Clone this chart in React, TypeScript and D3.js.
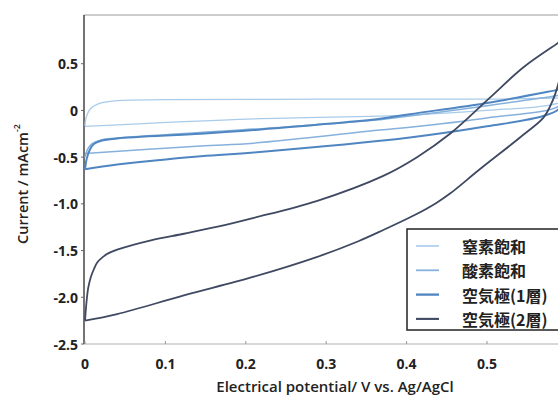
import React from "react";
import * as d3 from "d3";

// Cyclic voltammetry loops: [potential V, current mA/cm2], anodic sweep then cathodic sweep
const n2Loop: [number, number][] = [
  [0, -0.17], [0.001, -0.09], [0.007, 0.02], [0.02, 0.08], [0.04, 0.105],
  [0.1, 0.115], [0.3, 0.12], [0.5, 0.12], [0.6, 0.12],
  [0.58, 0.06], [0.5, 0.0], [0.404, -0.05], [0.21, -0.09], [0, -0.17],
];
const o2Loop: [number, number][] = [
  [0, -0.5], [0.003, -0.42], [0.008, -0.36], [0.02, -0.315], [0.04, -0.295], [0.21, -0.2],
  [0.367, -0.1], [0.404, -0.06], [0.5, 0.05], [0.588, 0.16], [0.6, 0.18],
  [0.59, 0.05], [0.5, -0.08], [0.404, -0.18], [0.367, -0.21], [0.21, -0.35], [0.144, -0.38], [0, -0.46],
];
const air1Loop: [number, number][] = [
  [0, -0.63], [0.002, -0.52], [0.006, -0.42], [0.011, -0.36], [0.02, -0.325], [0.04, -0.3], [0.144, -0.25],
  [0.21, -0.21], [0.367, -0.09], [0.404, -0.04], [0.5, 0.08], [0.588, 0.22], [0.6, 0.24],
  [0.59, 0.02], [0.57, -0.06], [0.5, -0.17], [0.404, -0.29], [0.21, -0.45], [0.144, -0.49],
  [0.04, -0.58], [0, -0.63],
];
const air2Loop: [number, number][] = [
  [0, -2.25], [0.002, -2.04], [0.004, -1.9], [0.007, -1.79], [0.011, -1.7], [0.015, -1.63],
  [0.022, -1.57], [0.03, -1.525], [0.04, -1.49], [0.082, -1.39], [0.123, -1.32], [0.165, -1.245],
  [0.21, -1.15], [0.288, -0.97], [0.371, -0.7], [0.413, -0.5], [0.454, -0.25], [0.504, 0.14],
  [0.545, 0.46], [0.588, 0.72], [0.6, 0.79],
  [0.592, 0.4], [0.585, 0.18], [0.578, 0.035], [0.57, -0.08], [0.541, -0.29], [0.491, -0.63],
  [0.454, -0.89], [0.437, -0.99], [0.41, -1.12], [0.371, -1.28], [0.34, -1.4], [0.288, -1.57],
  [0.21, -1.78], [0.123, -1.98], [0.04, -2.18], [0, -2.25],
];

const seriesNames = ["窒素飽和", "酸素飽和", "空気極(1層)", "空気極(2層)"];
const xTicks = [0, 0.1, 0.2, 0.3, 0.4, 0.5];
const yTicks = [0.5, 0, -0.5, -1.0, -1.5, -2.0, -2.5];
const yTickLabels = ["0.5", "0", "-0.5", "-1.0", "-1.5", "-2.0", "-2.5"];

const W = 558;
const H = 396;

export default function App() {
  const x = d3.scaleLinear().domain([0, 0.6]).range([85, 567.4]);
  const y = d3.scaleLinear().domain([-2.5, 1.0]).range([344, 17]);
  const line = d3
    .line<[number, number]>()
    .x((d) => x(d[0]))
    .y((d) => y(d[1]))
    .curve(d3.curveCatmullRom.alpha(0.5));

  const series = [
    { name: seriesNames[0], data: n2Loop, color: "#a9cbea", width: 1.3 },
    { name: seriesNames[1], data: o2Loop, color: "#86b1dc", width: 1.5 },
    { name: seriesNames[2], data: air1Loop, color: "#4f86c2", width: 2.0 },
    { name: seriesNames[3], data: air2Loop, color: "#3f4962", width: 1.8 },
  ];

  const font = "'Open Sans', 'DejaVu Sans', sans-serif";
  const left = 84;
  const top = 15;
  const bottom = 344;

  return (
    <svg
      width={W}
      height={H}
      style={{ position: "absolute", left: 0, top: 0, background: "#fff" }}
    >
      <defs>
        <clipPath id="plotClip">
          <rect x={left} y={top} width={W - left} height={bottom - top} />
        </clipPath>
      </defs>
      <rect x={0} y={0} width={W} height={H} fill="#fff" />
      {/* frame */}
      <line x1={left} x2={W} y1={top} y2={top} stroke="#9a9a9a" strokeWidth={1} />
      <line x1={left} x2={W} y1={bottom} y2={bottom} stroke="#b0b0b0" strokeWidth={1} />
      <line x1={left} x2={left} y1={top} y2={bottom} stroke="#444" strokeWidth={1.5} />

      {/* y ticks */}
      {yTicks.map((t, i) => (
        <g key={"y" + i}>
          <line x1={left - 3} x2={left} y1={y(t)} y2={y(t)} stroke="#666" strokeWidth={1} />
          <text
            x={78}
            y={y(t)}
            textAnchor="end"
            dominantBaseline="central"
            fontFamily={font}
            fontWeight={700}
            fontSize={14}
            fill="#222"
          >
            {yTickLabels[i]}
          </text>
        </g>
      ))}
      {/* x ticks */}
      {xTicks.map((t, i) => (
        <g key={"x" + i}>
          <line x1={x(t)} x2={x(t)} y1={bottom} y2={bottom - 3} stroke="#999" strokeWidth={1} />
          <text
            x={x(t)}
            y={363}
            textAnchor="middle"
            dominantBaseline="central"
            fontFamily={font}
            fontWeight={700}
            fontSize={14}
            fill="#222"
          >
            {String(t)}
          </text>
        </g>
      ))}

      {/* axis titles */}
      <text
        x={335}
        y={386}
        textAnchor="middle"
        dominantBaseline="central"
        fontFamily={font}
        fontWeight={600}
        fontSize={15}
        fill="#222"
      >
        Electrical potential/ V vs. Ag/AgCl
      </text>
      <text
        transform={`translate(22,184) rotate(-90)`}
        textAnchor="middle"
        dominantBaseline="central"
        fontFamily={font}
        fontWeight={600}
        fontSize={14.5}
        fill="#222"
      >
        Current / mAcm
        <tspan fontSize={9} dy={-6}>-2</tspan>
      </text>

      {/* curves */}
      <g clipPath="url(#plotClip)">
        {series.map((s) => (
          <path
            key={s.name}
            d={line(s.data) || ""}
            fill="none"
            stroke={s.color}
            strokeWidth={s.width}
            strokeLinejoin="round"
          />
        ))}
      </g>

      {/* legend */}
      <rect x={407} y={229} width={200} height={101} fill="#fff" stroke="#222" strokeWidth={1.5} />
      {series.map((s, i) => {
        const ly = 246 + i * 24.3;
        return (
          <g key={"lg" + i}>
            <line x1={416} x2={439} y1={ly} y2={ly} stroke={s.color} strokeWidth={s.width + 0.3} />
            <text
              x={462}
              y={ly}
              dominantBaseline="central"
              fontFamily="'Noto Sans CJK JP', 'Noto Sans', sans-serif"
              fontWeight={700}
              fontSize={16}
              fill="#222"
            >
              {s.name}
            </text>
          </g>
        );
      })}
    </svg>
  );
}
